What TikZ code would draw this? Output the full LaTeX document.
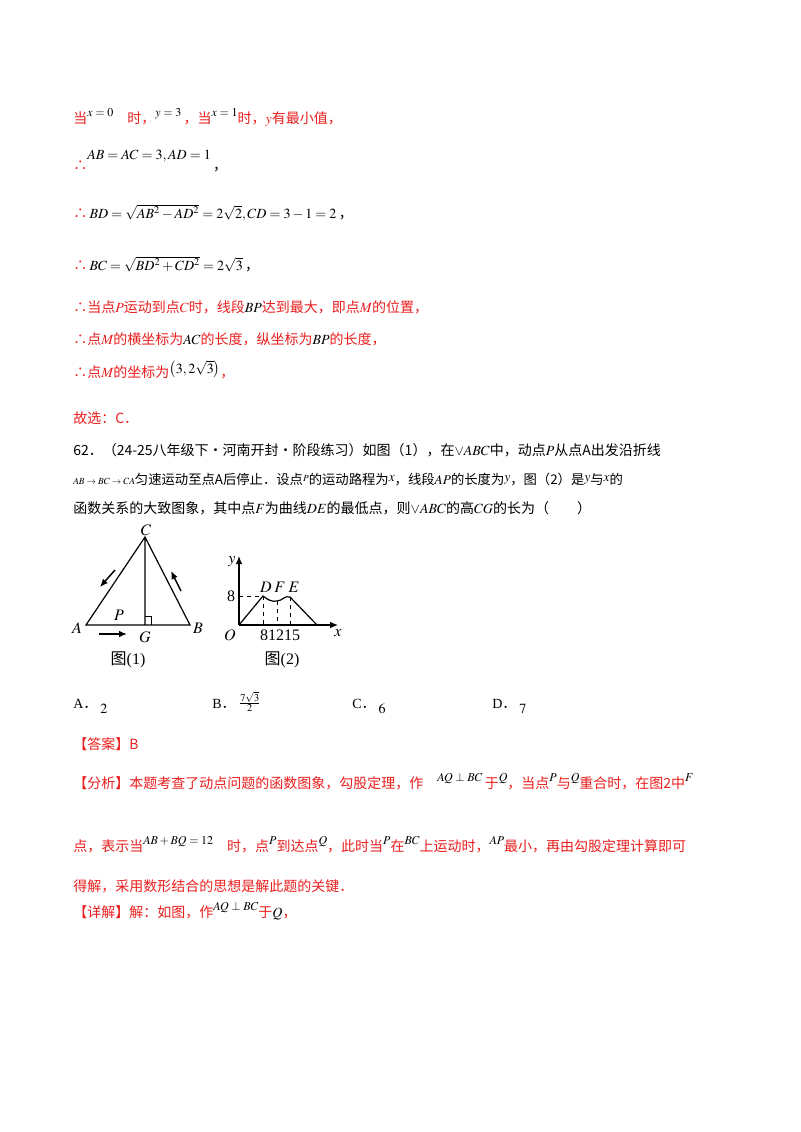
\documentclass[tikz,border=0pt]{standalone}
\usetikzlibrary{arrows.meta}
\usepackage{mathptmx}
\usepackage{fontspec}
\setmainfont{Liberation Serif}
\newfontfamily\cjk{Noto Sans CJK SC}
\definecolor{rd}{RGB}{235,30,30}
\newcommand{\R}[1]{{\color{rd}\cjk #1}}
\newcommand{\M}[1]{{\color{black}$#1$}}
\newcommand{\U}[1]{\raisebox{5pt}{\small\color{black}$#1$}}
\begin{document}
\begin{tikzpicture}[x=0.75pt,y=-0.75pt,
 t/.style={anchor=base west,inner sep=0pt,font=\fontsize{10.5pt}{12pt}\selectfont},
 fig/.style={font=\fontsize{12pt}{14pt}\selectfont,inner sep=1pt},
 ln/.style={line width=0.9pt},
 arr/.style={line width=1.1pt,-{Latex[length=6pt,width=5pt]}}]
\useasboundingbox[fill=white] (0,0) rectangle (800,1132);
\node[t] (l1) at (73,123) {\R{当}\U{x=0}\R{\quad 时，}\U{y=3}\R{\,，当}\U{x=1}\R{时，}{\color{rd}$y$}\R{有最小值，}};
\node[t] (l2) at (73,170) {\R{∴}\raisebox{8pt}{$AB=AC=3,AD=1$}\,{\cjk ，}};
\node[t] (l3) at (73,218) {\R{∴}\,$BD=\sqrt{AB^2-AD^2}=2\sqrt2,CD=3-1=2$\,{\cjk ，}};
\node[t] (l4) at (73,270) {\R{∴}\,$BC=\sqrt{BD^2+CD^2}=2\sqrt3$\,{\cjk ，}};
\node[t] (l5) at (73,312) {\R{∴当点{\color{rd}$P$}运动到点{\color{rd}$C$}时，线段}\M{BP}\R{达到最大，即点{\color{rd}$M$}的位置，}};
\node[t] (l6) at (73,344) {\R{∴点{\color{rd}$M$}的横坐标为}\M{AC}\R{的长度，纵坐标为}\M{BP}\R{的长度，}};
\node[t] (l7) at (73,377) {\R{∴点{\color{rd}$M$}的坐标为}\raisebox{3pt}{$\left(3,2\sqrt3\right)$}\R{，}};
\node[t] (l8) at (73,423) {\R{故选：C．}};
\node[t] (l9) at (73,455) {{\cjk 62．（24-25八年级下·河南开封·阶段练习）如图（1），在}$\vee ABC${\cjk 中，动点}$P${\cjk 从点A出发沿折线}};
\node[t] (l10) at (73,484) {\scriptsize$AB\to BC\to CA$\normalsize{\cjk 匀速运动至点A后停止．设点}\raisebox{2pt}{\scriptsize$P$}{\cjk 的运动路程为}\raisebox{2pt}{$x$}{\cjk ，线段}$AP${\cjk 的长度为}\raisebox{2pt}{$y$}{\cjk ，图（2）是}\raisebox{2pt}{$y$}{\cjk 与}\raisebox{2pt}{$x$}{\cjk 的}};
\node[t] (l11) at (73,513) {{\cjk 函数关系的大致图象，其中点}$F${\cjk 为曲线}$DE${\cjk 的最低点，则}$\vee ABC${\cjk 的高}$CG${\cjk 的长为（　　）}};
% figure 1
\coordinate (A) at (86,625); \coordinate (B) at (190,625); \coordinate (C) at (145,537); \coordinate (G) at (145,625);
\draw[ln] (A)--(C)--(B)--cycle (C)--(G);
\draw[line width=0.7pt] (145,616)--(151,616)--(151,625);
\draw[arr] (115,570)--(100,587);
\draw[arr] (181,591)--(171,571);
\draw[arr] (99,634)--(127,634);
\node[fig] (nC) at (146,530) {$C$};
\node[fig] (nA) at (77,628) {$A$};
\node[fig] (nB) at (198,628) {$B$};
\node[fig] (nP) at (119,615) {$P$};
\node[fig] (nG) at (145,637) {$G$};
\node[fig] (cap1) at (128,660) {{\cjk 图}(1)};
% figure 2
\coordinate (O) at (239,625);
\draw[ln,-{Latex[length=6pt,width=5pt]}] (O)--(239,556);
\draw[ln,-{Latex[length=6pt,width=5pt]}] (O)--(338,625);
\draw[ln] (O)--(263,596) .. controls (268,600) and (272,602) .. (277,601) .. controls (282,601) and (285,595) .. (290,597) -- (317,625);
\draw[dashed,line width=0.7pt] (239,596)--(263,596) (263,596)--(263,625) (277,601)--(277,625) (290,597)--(290,625);
\node[fig] (ny) at (232,562) {$y$};
\node[fig] (nx) at (338,633) {$x$};
\node[fig] (nO) at (230,635) {$O$};
\node[fig] (n8) at (231,596) {8};
\node[fig] (nD) at (266,587) {$D$};
\node[fig] (nF) at (280,587) {$F$};
\node[fig] (nE) at (294,587) {$E$};
\node[fig] (nt) at (280,635) {81215};
\node[fig] (cap2) at (282,660) {{\cjk 图}(2)};
% choices
\node[t] (cA) at (73,708) {A{\cjk ．}\raisebox{-4pt}{$\;2$}};
\node[t] (cB) at (212,708) {B{\cjk ．}\raisebox{1pt}{$\;\frac{7\sqrt3}{2}$}};
\node[t] (cC) at (352,708) {C{\cjk ．}\raisebox{-4pt}{$\;6$}};
\node[t] (cD) at (492,708) {D{\cjk ．}\raisebox{-4pt}{$\;7$}};
\node[t] (ans) at (73,749) {\R{【答案】B}};
\node[t] (an1) at (73,788) {\R{【分析】本题考查了动点问题的函数图象，勾股定理，作}\quad\U{AQ\perp BC}\R{\,于}\U{Q}\R{，当点}\U{P}\R{与}\U{Q}\R{重合时，在图2中}\U{F}};
\node[t] (an2) at (73,851) {\R{点，表示当}\U{AB+BQ=12}\R{\quad 时，点}\U{P}\R{到达点}\U{Q}\R{，此时当}\U{P}\R{在}\U{BC}\R{上运动时，}\U{AP}\R{最小，再由勾股定理计算即可}};
\node[t] (an3) at (73,891) {\R{得解，采用数形结合的思想是解此题的关键．}};
\node[t] (an4) at (73,917) {\R{【详解】解：如图，作}\U{AQ\perp BC}\R{于}\M{Q}\R{，}};
\end{tikzpicture}
\end{document}
